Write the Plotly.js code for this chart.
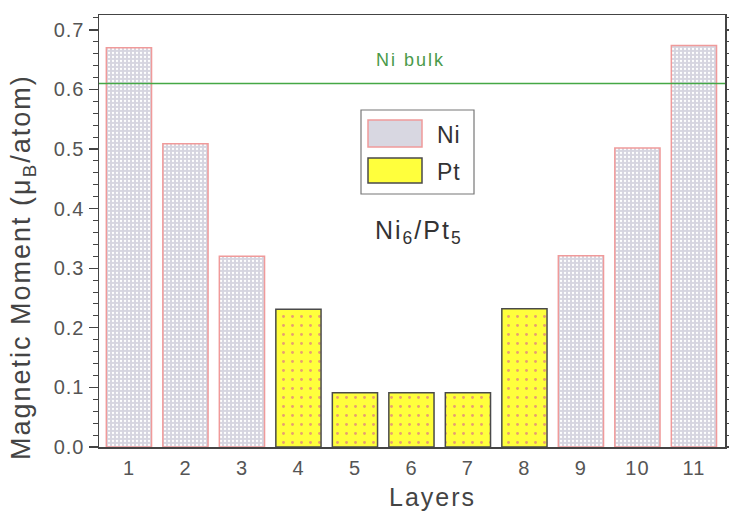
<!DOCTYPE html>
<html><head><meta charset="utf-8">
<script src="https://cdn.plot.ly/plotly-3.0.1.min.js"></script>
<style>html,body{margin:0;padding:0;background:#fff}#chart{width:729px;height:515px}</style>
</head><body><div id="chart"></div>
<script>
const niLayers = [1, 2, 3, 9, 10, 11];
const niMoments = [0.670, 0.509, 0.320, 0.321, 0.502, 0.674];
const ptLayers = [4, 5, 6, 7, 8];
const ptMoments = [0.231, 0.091, 0.091, 0.091, 0.232];
const niBulk = 0.61;
const xTicks = [1,2,3,4,5,6,7,8,9,10,11];

const FAM = 'Liberation Sans, Arial, sans-serif';
const niFill = '#d8d7e1', niLine = '#f09a9a';
const ptFill = '#ffff3c', ptLine = '#4a4a4a';

// pixel -> paper helpers (plot area: x 99..725, y 15..447)
const px = v => (v - 99) / 626;
const py = v => (447 - v) / 432;

const traces = [
  {type: 'bar', name: 'Ni', x: niLayers, y: niMoments, width: 0.8,
   marker: {color: niFill, line: {color: niLine, width: 1.5},
            pattern: {shape: '.', fgcolor: '#ffffff', bgcolor: '#d6d5e0', size: 4, solidity: 0.25}}},
  {type: 'bar', name: 'Pt', x: ptLayers, y: ptMoments, width: 0.8,
   marker: {color: ptFill, line: {color: ptLine, width: 1.5},
            pattern: {shape: '.', fgcolor: '#e8a070', bgcolor: ptFill, size: 9, solidity: 0.08}}}
];

const layout = {
  width: 729, height: 515,
  margin: {l: 99, r: 4, t: 15, b: 68},
  paper_bgcolor: '#fff', plot_bgcolor: '#fff',
  font: {family: FAM, color: '#444'}, barmode: 'overlay', bargap: 0,
  showlegend: false,
  xaxis: {range: [0.47, 11.55], tickvals: xTicks, ticktext: xTicks.map(String),
          showgrid: false, zeroline: false, showline: true, linecolor: '#444', linewidth: 1.5,
          mirror: true, ticks: '', ticklabelstandoff: 2, tickfont: {size: 20, color: '#555'}},
  yaxis: {range: [0, 0.725], dtick: 0.1, tickformat: '.1f',
          showgrid: false, zeroline: false, showline: true, linecolor: '#444', linewidth: 1.5,
          mirror: 'ticks', ticks: 'outside', ticklen: 9, tickwidth: 1.2, tickcolor: '#444',
          minor: {dtick: 0.02, ticks: 'outside', ticklen: 5, tickcolor: '#444', tickwidth: 1},
          tickfont: {size: 20, color: '#555'}},
  shapes: [
    {type: 'line', xref: 'paper', x0: 0, x1: 1, yref: 'y', y0: niBulk, y1: niBulk,
     line: {color: '#45a845', width: 1.5}},
    // legend box and swatches
    {type: 'rect', xref: 'paper', yref: 'paper', x0: px(361), x1: px(474), y0: py(194), y1: py(110),
     line: {color: '#777', width: 1.2}, fillcolor: '#fff', layer: 'above'},
    {type: 'rect', xref: 'paper', yref: 'paper', x0: px(368), x1: px(422), y0: py(147), y1: py(120),
     line: {color: niLine, width: 1.5}, fillcolor: niFill, layer: 'above'},
    {type: 'rect', xref: 'paper', yref: 'paper', x0: px(368), x1: px(422), y0: py(183), y1: py(158),
     line: {color: ptLine, width: 1.5}, fillcolor: ptFill, layer: 'above'}
  ],
  annotations: [
    {text: 'Ni bulk', xref: 'x', x: 6.0, xanchor: 'center', yref: 'paper', y: py(60), yanchor: 'middle',
     showarrow: false, font: {size: 18, color: '#4a9a4a', family: FAM}, ls: 2},
    {text: 'Ni<sub>6</sub>/Pt<sub>5</sub>', xref: 'paper', x: px(419), xanchor: 'center', yref: 'paper', y: py(232),
     yanchor: 'middle', showarrow: false, font: {size: 25, color: '#333', family: FAM}, ls: 2},
    {text: 'Ni', xref: 'paper', x: px(436), xanchor: 'left', yref: 'paper', y: py(135), yanchor: 'middle',
     showarrow: false, font: {size: 23, color: '#333', family: FAM}, ls: 1},
    {text: 'Pt', xref: 'paper', x: px(436), xanchor: 'left', yref: 'paper', y: py(172), yanchor: 'middle',
     showarrow: false, font: {size: 23, color: '#333', family: FAM}, ls: 1},
    {text: 'Layers', xref: 'paper', x: px(432), xanchor: 'center', yref: 'paper', y: py(497), yanchor: 'middle',
     showarrow: false, font: {size: 25, color: '#444', family: FAM}, ls: 2},
    {text: 'Magnetic Moment (μ<sub>B</sub>/atom)', xref: 'paper', x: px(23), xanchor: 'center',
     yref: 'paper', y: py(267), yanchor: 'middle',
     textangle: -90, showarrow: false, font: {size: 27, color: '#444', family: FAM}, ls: 2}
  ]
};
const spacing = layout.annotations.map(a => a.ls);
layout.annotations.forEach(a => delete a.ls);

Plotly.newPlot('chart', traces, layout, {displayModeBar: false, staticPlot: true}).then(() => {
  document.querySelectorAll('#chart .annotation').forEach((g, i) => {
    const t = g.querySelector('text');
    if (t && spacing[i]) t.style.letterSpacing = spacing[i] + 'px';
  });
  document.querySelectorAll('#chart .xtick text, #chart .ytick text').forEach(t => {
    t.style.letterSpacing = '1px';
  });
});
</script></body></html>
